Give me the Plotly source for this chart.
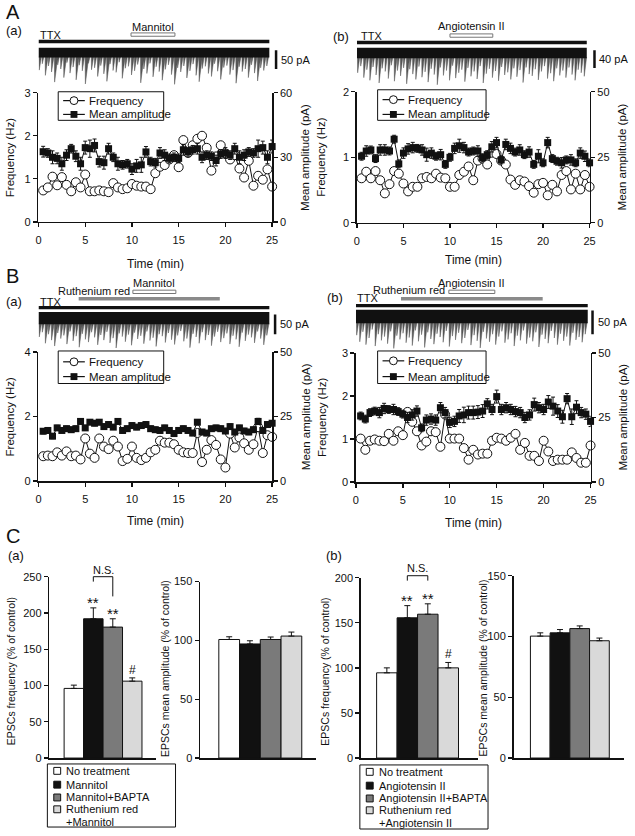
import plotly.graph_objects as go

W, H = 635, 836
FONT = "Liberation Sans, Arial, Helvetica, sans-serif"
INK = "#111111"


def PX(x):
    return x / W


def PY(y):
    return 1 - y / H


def name(k, n):
    return f"{k}axis" + ("" if n == 1 else str(n))


def ref(k, n):
    return k + ("" if n == 1 else str(n))


# ---------------------------------------------------------------- data
time_min = [0.5 * i for i in range(1, 51)]
time_ticks = [0, 5, 10, 15, 20, 25]

# A(a) TTX + Mannitol
freq_Aa = [0.73, 0.80, 1.05, 0.85, 1.04, 0.86, 0.71, 0.92, 0.80, 1.10,
           0.71, 0.71, 0.73, 0.71, 0.69, 0.90, 0.80, 0.76, 0.78, 0.88,
           0.84, 0.82, 0.82, 0.76, 1.13, 1.28, 1.32, 1.45, 1.55, 1.27,
           1.90, 1.60, 1.78, 1.93, 2.00, 1.72, 1.19, 1.52, 1.78, 1.59,
           1.45, 1.55, 1.24, 1.03, 1.42, 0.84, 1.07, 0.98, 1.22, 0.82]
amp_Aa = [32.6, 32, 30, 29.5, 27, 31, 34, 30.5, 27, 34.5,
          34, 35.5, 28, 27.5, 34, 30, 27, 26.5, 27, 24.5,
          26, 26.5, 32.5, 28, 27.5, 32, 31, 29.5, 30, 29.5,
          33.5, 32.5, 33.5, 34, 30, 31, 30.5, 28.5, 31.5, 32,
          31, 34, 30, 31, 32.5, 32, 34, 34.5, 30, 35]
amp_err_Aa = [2.5, 2, 3, 2.5, 3, 2.5, 2, 2.5, 3, 3,
              4, 3, 2.5, 3, 2.5, 2, 3, 2, 2, 2.5,
              3, 3.5, 2.5, 2, 2, 2.5, 2.5, 2, 2, 2,
              2.5, 2, 2, 2.5, 2.5, 2, 2, 2.5, 2, 2.5,
              2, 2.5, 3, 2.5, 2, 2, 4, 3, 3, 3]

# A(b) TTX + Angiotensin II
freq_Ab = [0.68, 0.78, 0.68, 0.79, 0.65, 0.45, 0.59, 0.79, 0.75, 0.60,
           0.48, 0.55, 0.55, 0.68, 0.70, 0.68, 0.75, 0.69, 0.68, 0.55,
           0.55, 0.73, 0.78, 0.86, 0.65, 0.95, 0.98, 0.89, 1.07, 1.05,
           0.95, 0.89, 0.66, 0.58, 0.65, 0.63, 0.56, 0.46, 0.59, 0.61,
           0.42, 0.58, 0.48, 0.73, 0.79, 0.51, 0.75, 0.51, 0.73, 0.55]
amp_Ab = [25.4, 27.4, 27.8, 24.5, 27.8, 27.8, 27.4, 31.9, 22.5, 26.6,
          28.2, 28.7, 28.4, 27.8, 26, 26.6, 25.4, 26, 22.3, 25,
          28.4, 29.4, 28.7, 27, 27.4, 27.4, 24.8, 26, 29, 30.6,
          24, 29.9, 28.4, 27, 27.8, 26, 27, 22.3, 25.4, 22.9,
          30.6, 24.5, 23.5, 22.9, 24, 24, 22.9, 26.6, 25.4, 22.9]
amp_err_Ab = [1.5, 2, 1.5, 1.5, 2, 2, 1.5, 1.5, 1.5, 2,
              2, 2, 1.5, 2, 2.5, 2, 1.5, 2, 1.5, 1.5,
              2, 2.5, 2, 1.5, 1.5, 2, 1.5, 1.5, 2, 2,
              1.5, 2, 2, 1.5, 2, 1.5, 2, 1.5, 2.5, 1.5,
              2, 1.5, 1.5, 2, 1.5, 2, 1.5, 2, 2, 1.5]

# B(a) TTX + Ruthenium red + Mannitol
freq_Ba = [0.77, 0.79, 0.77, 0.89, 0.79, 0.92, 0.77, 0.79, 0.67, 1.32,
           0.85, 0.72, 1.32, 1.07, 0.99, 1.25, 1.07, 0.62, 0.69, 1.07,
           0.72, 0.65, 0.72, 0.89, 0.97, 1.25, 1.19, 1.19, 1.14, 0.97,
           0.89, 0.87, 0.87, 1.49, 0.59, 0.97, 1.27, 1.12, 0.67, 0.42,
           1.47, 1.04, 1.35, 1.17, 0.97, 1.14, 1.67, 0.87, 1.42, 1.37]
amp_Ba = [19.3, 19.6, 17.4, 20.6, 19.6, 20.3, 19.9, 20.3, 23.1, 20.6,
          22.8, 22.4, 22.8, 21.1, 21.9, 20.9, 23.1, 19.6, 20.3, 21.5,
          20.9, 21.5, 21.9, 20.3, 19.9, 19.6, 20.6, 19.6, 18.4, 19.6,
          20.3, 19.6, 18.6, 22.8, 19, 18.6, 20.3, 20.6, 20.3, 19.4,
          21.1, 19, 20.6, 19.4, 19, 19.9, 23.1, 19.6, 21.9, 22.4]
amp_err_Ba = [1, 1, 1, 1, 0.8, 1, 1, 1, 1, 1,
              0.8, 1, 1, 1, 1, 0.8, 1, 1, 1, 1,
              1, 0.8, 1, 1, 1, 1, 1, 0.8, 1, 1,
              1, 1, 1, 1, 1, 1, 0.8, 1, 1, 1,
              1, 1, 1, 1, 1, 1, 1.2, 1, 1, 1]

# B(b) TTX + Ruthenium red + Angiotensin II
freq_Bb = [1.01, 0.75, 0.96, 0.99, 0.96, 0.95, 1.12, 0.96, 1.18, 1.09,
           1.63, 1.40, 1.18, 0.85, 0.94, 1.18, 1.16, 0.82, 1.57, 1.01,
           1.01, 1.01, 0.79, 0.52, 0.75, 0.64, 0.66, 0.66, 0.96, 1.03,
           1.01, 0.96, 1.03, 1.12, 0.75, 0.91, 0.61, 0.61, 0.49, 0.96,
           0.71, 0.49, 0.52, 0.52, 0.52, 0.69, 0.56, 0.45, 0.45, 0.85]
amp_Bb = [25.6, 24.4, 26.9, 27.5, 26.9, 28.5, 28.1, 28.1, 27.3, 26.3,
          25, 26, 27.5, 21, 24, 24.4, 24, 28.8, 26.9, 23.1,
          23.5, 25.6, 26, 26.9, 26.9, 27.1, 27.5, 30.3, 28.1, 33.1,
          28.1, 28.8, 28.1, 27.3, 26.9, 25, 26, 30, 28.8, 28.1,
          31, 29.4, 27.5, 25.3, 32.3, 25.3, 29, 26.9, 26.3, 23.5]
amp_err_Bb = [1.5, 1.5, 1.5, 1.5, 2, 2, 1.5, 2, 1.5, 1.5,
              2, 2, 2, 1.5, 2, 2, 2, 2, 2, 2,
              2, 2.5, 3, 2.5, 2.5, 2.5, 2.5, 2, 2, 2.5,
              2, 2, 2, 2, 2, 2, 2, 2.5, 2, 2,
              2.5, 3.5, 2.5, 2.5, 2, 3, 2.5, 2, 2, 2]

# raw current recordings: depth of events below baseline (pA)
trace_Aa = [58, 41, 72, 47, 63, 90, 44, 55, 78, 38, 66, 50, 84, 45, 60, 95, 40, 57, 52, 75,
            46, 68, 88, 42, 59, 64, 37, 80, 53, 48, 71, 60, 43, 92, 55, 67, 40, 76, 49, 62,
            85, 56, 44, 70, 96, 52, 63, 47, 79, 60, 42, 72, 89, 54, 48, 67, 75, 41, 61, 83,
            51, 46, 70, 58, 93, 49, 62, 55, 78, 44, 66, 87, 52, 59, 47]
trace_Ab = [55, 40, 66, 48, 72, 42, 60, 78, 45, 52, 68, 38, 74, 50, 62, 44, 80, 47, 58, 70,
            41, 65, 53, 76, 46, 59, 82, 43, 61, 50, 72, 39, 67, 55, 48, 75, 44, 63, 52, 69,
            40, 78, 57, 46, 66, 51, 73, 42, 60, 54, 70, 45, 64, 49, 77, 43, 58, 62, 47, 71,
            52, 40, 68, 56, 74, 45, 61, 50, 66, 43, 59, 72, 48, 55, 63]
trace_Ba = [62, 50, 78, 55, 70, 85, 52, 66, 58, 80, 48, 72, 60, 88, 54, 68, 75, 50, 63, 82,
            57, 70, 49, 77, 65, 90, 53, 61, 74, 56, 83, 51, 67, 59, 79, 48, 71, 64, 86, 55,
            60, 76, 52, 69, 81, 58, 47, 73, 66, 89, 54, 62, 78, 50, 70, 57, 84, 61, 49, 75,
            65, 53, 80, 59, 68, 87, 51, 72, 56, 63, 77, 48, 66, 82, 58]
trace_Bb = [52, 66, 45, 72, 58, 40, 75, 50, 63, 55, 70, 44, 80, 53, 61, 48, 68, 57, 74, 42,
            65, 51, 78, 46, 60, 71, 49, 56, 67, 43, 76, 54, 62, 47, 69, 58, 41, 73, 52, 64,
            79, 45, 59, 66, 50, 72, 55, 44, 68, 61, 48, 75, 53, 63, 42, 70, 57, 65, 46, 77,
            51, 60, 69, 43, 58, 72, 49, 64, 55, 74, 47, 62, 56, 67, 50]
band_Aa, band_Ab, band_Ba, band_Bb = 24, 22, 30, 27      # pA, dense baseline noise
scale_Aa, scale_Ab, scale_Ba, scale_Bb = 50, 40, 50, 50  # pA scale bars

# drug application periods (min)
ttx_Aa = [0, 24.7]
mannitol_Aa = [9.9, 14.6]
ttx_Ab = [0, 24.7]
ang_Ab = [10.0, 14.6]
ttx_Ba = [0, 24.7]
rr_Ba = [4.3, 19.4]
mannitol_Ba = [10.1, 14.7]
ttx_Bb = [0, 24.7]
rr_Bb = [4.8, 19.9]
ang_Bb = [9.9, 14.8]

# C: summary bars (% of control)
groups_a = ["No treatment", "Mannitol", "Mannitol+BAPTA", "Ruthenium red<br>+Mannitol"]
groups_b = ["No treatment", "Angiotensin II", "Angiotensin II+BAPTA", "Ruthenium red<br>+Angiotensin II"]
bar_colors = ["#ffffff", "#111111", "#7a7a7a", "#d9d9d9"]
freq_pct_a = [96, 192, 180.5, 106]
freq_pct_a_err = [4.5, 15, 11.5, 4.5]
amp_pct_a = [100.8, 97, 100.8, 103.7]
amp_pct_a_err = [2.3, 2.7, 2.1, 3.4]
freq_pct_b = [94.5, 155.5, 159.5, 100]
freq_pct_b_err = [5.5, 13.5, 11.5, 6]
amp_pct_b = [100.3, 103, 106.5, 96.5]
amp_pct_b_err = [2.7, 2.7, 2.2, 2.2]
sig_a = ["", "**", "**", "#"]
sig_b = ["", "**", "**", "#"]

# ---------------------------------------------------------------- figure
fig = go.Figure()
shapes, annotations = [], []
layout = dict(width=W, height=H, margin=dict(l=0, r=0, t=0, b=0),
              paper_bgcolor="white", plot_bgcolor="rgba(0,0,0,0)",
              showlegend=False, barmode="overlay",
              font=dict(family=FONT, size=11, color=INK))


def ann(text, x, y, xref="paper", yref="paper", size=11, xanchor="center",
        yanchor="middle", angle=0, **kw):
    annotations.append(dict(text=text, x=x, y=y, xref=xref, yref=yref, showarrow=False,
                            font=dict(size=size, family=FONT, color=INK),
                            xanchor=xanchor, yanchor=yanchor, textangle=angle,
                            borderpad=0, **kw))


def axis_style(**kw):
    d = dict(showline=True, linecolor=INK, linewidth=1.6, ticks="outside", ticklen=4,
             tickwidth=1.3, tickcolor=INK, showgrid=False, zeroline=False,
             tickfont=dict(size=11, family=FONT, color=INK), fixedrange=True)
    d.update(kw)
    return d


def tc_legend(x0, x1, y0, y1, r1, r2):
    shapes.append(dict(type="rect", xref="paper", yref="paper", x0=PX(x0), x1=PX(x1),
                       y0=PY(y1), y1=PY(y0), fillcolor="white",
                       line=dict(color=INK, width=1)))
    lx0, lx1, cx, tx = x0 + 5, x0 + 27, x0 + 16, x0 + 30
    for r in (r1, r2):
        shapes.append(dict(type="line", xref="paper", yref="paper", x0=PX(lx0), x1=PX(lx1),
                           y0=PY(r), y1=PY(r), line=dict(color=INK, width=1.2)))
    shapes.append(dict(type="circle", xref="paper", yref="paper", x0=PX(cx - 4), x1=PX(cx + 4),
                       y0=PY(r1 + 4), y1=PY(r1 - 4), fillcolor="white",
                       line=dict(color=INK, width=1)))
    shapes.append(dict(type="rect", xref="paper", yref="paper", x0=PX(cx - 3.5), x1=PX(cx + 3.5),
                       y0=PY(r2 + 3.5), y1=PY(r2 - 3.5), fillcolor=INK, line=dict(width=0)))
    ann("Frequency", PX(tx), PY(r1), size=11.5, xanchor="left")
    ann("Mean amplitude", PX(tx), PY(r2), size=11.5, xanchor="left")


panels = [
    dict(n=(1, 1, 2, 2, 3), x_px=(36, 273), y_px=(88, 219), f_top=3, f_dtick=1, a_top=60, a_dtick=30,
         freq=freq_Aa, amp=amp_Aa, err=amp_err_Aa,
         tr_py=(40, 84), base=43, pa_px=50 / 19, band=band_Aa, rec=trace_Aa, span=ttx_Aa,
         scale=scale_Aa, scale_x=277, scale_top=45,
         leg=(56, 163, 87, 116, 96, 110), xt=(155, 262), lt=7, rt=307,
         bars=[("solid", ttx_Aa, 36), ("open", mannitol_Aa, 29)],
         labels=[("TTX", 0.1, 29.5, "left"), ("Mannitol", sum(mannitol_Aa) / 2, 21.5, "center")]),
    dict(n=(3, 4, 5, 4, 6), x_px=(359, 595), y_px=(87, 220), f_top=2, f_dtick=1, a_top=50, a_dtick=25,
         freq=freq_Ab, amp=amp_Ab, err=amp_err_Ab,
         tr_py=(40, 84), base=43, pa_px=40 / 18, band=band_Ab, rec=trace_Ab, span=ttx_Ab,
         scale=scale_Ab, scale_x=600, scale_top=45,
         leg=(380, 490, 85, 116, 95, 110), xt=(477, 258), lt=323, rt=628,
         bars=[("solid", ttx_Ab, 37), ("open", ang_Ab, 30)],
         labels=[("TTX", 0.3, 30, "left"), ("Angiotensin II", sum(ang_Ab) / 2, 20.5, "center")]),
    dict(n=(5, 7, 8, 6, 9), x_px=(36, 273), y_px=(351, 482), f_top=4, f_dtick=2, a_top=50, a_dtick=25,
         freq=freq_Ba, amp=amp_Ba, err=amp_err_Ba,
         tr_py=(308, 349), base=311, pa_px=50 / 20, band=band_Ba, rec=trace_Ba, span=ttx_Ba,
         scale=scale_Ba, scale_x=276, scale_top=313,
         leg=(56, 163, 350, 383, 361, 376), xt=(155, 522), lt=7, rt=307,
         bars=[("solid", ttx_Ba, 306), ("gray", rr_Ba, 297), ("open", mannitol_Ba, 290)],
         labels=[("TTX", 0.1, 300, "left"), ("Ruthenium red", 2.0, 289, "left"),
                 ("Mannitol", sum(mannitol_Ba) / 2, 281, "center")]),
    dict(n=(7, 10, 11, 8, 12), x_px=(358, 596), y_px=(352, 483), f_top=3, f_dtick=1, a_top=50, a_dtick=25,
         freq=freq_Bb, amp=amp_Bb, err=amp_err_Bb,
         tr_py=(306, 349), base=309, pa_px=50 / 24, band=band_Bb, rec=trace_Bb, span=ttx_Bb,
         scale=scale_Bb, scale_x=598, scale_top=309,
         leg=(380, 490, 350, 383, 360, 376), xt=(477, 525), lt=323, rt=628,
         bars=[("solid", ttx_Bb, 304), ("gray", rr_Bb, 297), ("open", ang_Bb, 290)],
         labels=[("TTX", 0.0, 296, "left"), ("Ruthenium red", 1.7, 288.5, "left"),
                 ("Angiotensin II", sum(ang_Bb) / 2, 281, "center")]),
]

for p in panels:
    xn, yf, ya, tx, ty = p["n"]
    x0, x1 = p["x_px"]
    y0, y1 = p["y_px"]
    xr, yfr, yar = ref("x", xn), ref("y", yf), ref("y", ya)
    layout[name("x", xn)] = axis_style(domain=[PX(x0), PX(x1)], range=[0, 25], anchor=yfr,
                                       tickvals=time_ticks, ticklabelstandoff=3)
    layout[name("y", yf)] = axis_style(domain=[PY(y1), PY(y0)], range=[0, p["f_top"]],
                                       dtick=p["f_dtick"], tick0=0, anchor=xr)
    layout[name("y", ya)] = axis_style(overlaying=yfr, side="right", range=[0, p["a_top"]],
                                       dtick=p["a_dtick"], tick0=0, anchor=xr)
    fig.add_trace(go.Scatter(x=time_min, y=p["freq"], mode="lines+markers",
                             line=dict(color=INK, width=1),
                             marker=dict(symbol="circle", size=9, color="white",
                                         line=dict(color=INK, width=1)),
                             xaxis=xr, yaxis=yfr, cliponaxis=False, name="Frequency"))
    fig.add_trace(go.Scatter(x=time_min, y=p["amp"], mode="lines+markers",
                             line=dict(color=INK, width=1),
                             marker=dict(symbol="square", size=7, color=INK),
                             error_y=dict(type="data", array=p["err"], color=INK,
                                          thickness=1, width=2),
                             xaxis=xr, yaxis=yar, cliponaxis=False, name="Mean amplitude"))

    # raw recording on its own (hidden) axes, time in min and current in pA
    min_px = 25 / (x1 - x0)
    tx1 = x1 + 12
    ty0, ty1 = p["tr_py"]
    pa = p["pa_px"]
    trx, try_ = ref("x", tx), ref("y", ty)
    layout[name("x", tx)] = dict(domain=[PX(x0), PX(tx1)], range=[0, (tx1 - x0) * min_px],
                                 visible=False, anchor=try_, fixedrange=True)
    layout[name("y", ty)] = dict(domain=[PY(ty1), PY(ty0)],
                                 range=[-(ty1 - p["base"]) * pa, (p["base"] - ty0) * pa],
                                 visible=False, anchor=trx, fixedrange=True)
    rec = p["rec"]
    s0, s1 = p["span"]
    step = (s1 - s0 - 0.35) / (len(rec) - 1)
    sx_, sy_ = [], []
    for i, d in enumerate(rec):
        t = s0 + 0.05 + i * step
        # fast-rising / slower-decaying downward event (bigger events decay longer)
        sx_ += [t, t + 0.03, t + 0.06 + 0.0035 * d, None]
        sy_ += [-p["band"] + 2, -d, -p["band"] + 2, None]
    fig.add_trace(go.Scatter(x=sx_, y=sy_, mode="lines", fill="toself",
                             fillcolor="#555555", line=dict(color="#555555", width=0.5),
                             xaxis=trx, yaxis=try_))
    shapes.append(dict(type="rect", xref=trx, yref=try_, x0=s0, x1=s1, y0=-p["band"], y1=1.5,
                       fillcolor=INK, line=dict(width=0), layer="above"))
    sx = (p["scale_x"] - x0) * min_px
    stop = -(p["scale_top"] - p["base"]) * pa
    fig.add_trace(go.Scatter(x=[sx, sx], y=[stop, stop - p["scale"]], mode="lines",
                             line=dict(color=INK, width=2.5), xaxis=trx, yaxis=try_))
    ann(f"{p['scale']} pA", sx, stop - p["scale"] / 2, xref=trx, yref=try_,
        xanchor="left", xshift=4)

    # drug application bars and labels (time on the panel's x axis)
    for kind, per, yb in p["bars"]:
        style = {"solid": dict(fillcolor=INK, line=dict(width=0)),
                 "gray": dict(fillcolor="#8a8a8a", line=dict(width=0)),
                 "open": dict(fillcolor="white", line=dict(color="#777777", width=1))}[kind]
        hh = 1.7 if kind != "gray" else 1.8
        shapes.append(dict(type="rect", xref=xr, yref="paper", x0=per[0], x1=per[1],
                           y0=PY(yb + hh), y1=PY(yb - hh), **style))
    for text, tt, yy, anc in p["labels"]:
        ann(text, tt, PY(yy), xref=xr, xanchor=anc)

    # axis titles
    ann("Time (min)", PX(p["xt"][0]), PY(p["xt"][1]), size=12)
    ann("Frequency (Hz)", PX(p["lt"]), PY((y0 + y1) / 2), size=11.5, angle=-90)
    ann("Mean amplitude (pA)", PX(p["rt"]), PY((y0 + y1) / 2), size=11.5, angle=-90)
    tc_legend(*p["leg"])

# ---------------------------------------------------------------- C bars
bar_panels = [
    dict(n=(9, 13), x_px=(47, 155), xr=(-1.26, 4.21), y_px=(579, 763), top=250,
         vals=freq_pct_a, errs=freq_pct_a_err, sig=sig_a, title="EPSCs frequency (% of control)",
         tpos=(8, 675), ns=(579, 584, 599, 572)),
    dict(n=(10, 14), x_px=(200, 318), xr=(-1.40, 4.21), y_px=(584, 763), top=150,
         vals=amp_pct_a, errs=amp_pct_a_err, sig=None,
         title="EPSCs mean amplitude (% of control)", tpos=(165, 672), ns=None),
    dict(n=(11, 15), x_px=(363, 482), xr=(-1.27, 4.46), y_px=(580, 763), top=200,
         vals=freq_pct_b, errs=freq_pct_b_err, sig=sig_b, title="EPSCs frequency (% of control)",
         tpos=(327, 675), ns=(578, 583, 583, 570)),
    dict(n=(12, 16), x_px=(518, 630), xr=(-1.35, 4.25), y_px=(578, 763), top=150,
         vals=amp_pct_b, errs=amp_pct_b_err, sig=None,
         title="EPSCs mean amplitude (% of control)", tpos=(487, 672), ns=None),
]

for b in bar_panels:
    xn, yn = b["n"]
    xr, yr = ref("x", xn), ref("y", yn)
    layout[name("x", xn)] = dict(domain=[PX(b["x_px"][0]), PX(b["x_px"][1])], range=list(b["xr"]),
                                 anchor=yr, showline=True, linecolor=INK, linewidth=1.6,
                                 ticks="", showticklabels=False, showgrid=False,
                                 zeroline=False, fixedrange=True)
    layout[name("y", yn)] = axis_style(domain=[PY(b["y_px"][1]), PY(b["y_px"][0])],
                                       range=[0, b["top"]], dtick=50, tick0=0, anchor=xr)
    for i, (v, e, c) in enumerate(zip(b["vals"], b["errs"], bar_colors)):
        fig.add_trace(go.Bar(x=[i], y=[v], width=[1],
                             marker=dict(color=c, line=dict(color=INK, width=1)),
                             error_y=dict(type="data", array=[e], arrayminus=[0], symmetric=False,
                                          color=INK, thickness=1, width=3),
                             xaxis=xr, yaxis=yr))
        if b["sig"] and b["sig"][i]:
            s = b["sig"][i]
            ann(s, i, v + e, xref=xr, yref=yr, size=15 if s == "**" else 12,
                yanchor="bottom", yshift=-4 if s == "**" else 0)
    if b["ns"]:
        top, leg1, leg2, ty = b["ns"]
        shapes.append(dict(type="path", xref=xr, yref="paper",
                           path=f"M 1,{PY(leg1)} L 1,{PY(top)} L 2,{PY(top)} L 2,{PY(leg2)}",
                           line=dict(color=INK, width=1)))
        ann("N.S.", 1.5, PY(ty), xref=xr, size=11)
    ann(b["title"], PX(b["tpos"][0]), PY(b["tpos"][1]), size=10.5, angle=-90)


def bar_legend(x0, x1, y0, y1, sq_cx, text_x, rows, labels):
    shapes.append(dict(type="rect", xref="paper", yref="paper", x0=PX(x0), x1=PX(x1),
                       y0=PY(y1), y1=PY(y0), fillcolor="white", line=dict(color=INK, width=1)))
    r = 0
    for lab, col in zip(labels, bar_colors):
        lines = lab.split("<br>")
        yy = rows[r]
        shapes.append(dict(type="rect", xref="paper", yref="paper", x0=PX(sq_cx - 3.5),
                           x1=PX(sq_cx + 3.5), y0=PY(yy + 3.5), y1=PY(yy - 3.5),
                           fillcolor=col, line=dict(color=INK, width=1)))
        for ln in lines:
            ann(ln, PX(text_x), PY(rows[r]), size=11, xanchor="left")
            r += 1


bar_legend(45, 175, 769, 833, 55, 63, [776, 790, 803, 815, 828], groups_a)
bar_legend(362, 492, 770, 835, 372, 380, [777, 791, 804, 816, 829], groups_b)

# panel letters
ann("A", PX(10), PY(6), size=20)
ann("(a)", PX(11.5), PY(25), size=13)
ann("(b)", PX(342.5), PY(31), size=13)
ann("B", PX(10), PY(274), size=20)
ann("(a)", PX(11.5), PY(300), size=13)
ann("(b)", PX(336.5), PY(296), size=13)
ann("C", PX(10), PY(538), size=20)
ann("(a)", PX(13), PY(558), size=13)
ann("(b)", PX(336), PY(558), size=13)

layout["shapes"] = shapes
layout["annotations"] = annotations
fig.update_layout(**layout)
fig.update_traces(hoverinfo="skip")
fig.write_html("out.html",
               config={"displayModeBar": False, "staticPlot": True},
               post_script="document.body.style.margin='0';document.body.style.padding='0';"
                           "document.body.style.overflow='hidden';")
